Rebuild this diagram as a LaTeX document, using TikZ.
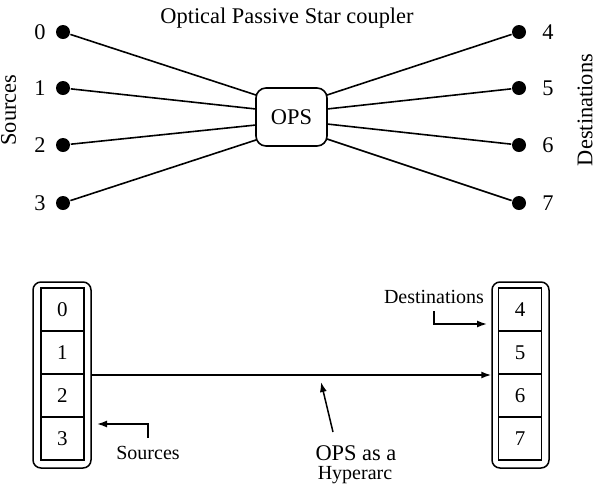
\documentclass[tikz,border=0pt]{standalone}
\usepackage{fontspec}
\setmainfont{Liberation Serif}
\usetikzlibrary{arrows.meta}
\begin{document}
\begin{tikzpicture}[x=0.5pt,y=-0.5pt, line width=0.8pt,
 dot/.style={circle,fill=black,inner sep=0pt,minimum size=7pt},
 lbl/.style={font=\fontsize{11.2}{13}\selectfont, inner sep=0pt},
 small/.style={font=\fontsize{10}{12}\selectfont, inner sep=0pt},
 cell/.style={draw,line width=0.75pt,minimum width=21.5pt,minimum height=21.5pt,inner sep=0pt,font=\fontsize{10.5}{12}\selectfont},
 frame/.style={draw,line width=0.75pt,rounded corners=4pt,minimum height=93pt,inner sep=0pt},
 opsbox/.style={draw,rounded corners=5pt,minimum width=35.5pt,minimum height=29pt,inner sep=0pt,font=\fontsize{11.2}{13}\selectfont},
 arr/.style={line width=0.75pt,-{Latex[length=5pt,width=3.5pt]}}]
\useasboundingbox (0,0) rectangle (600,489);

% ---------- top part ----------
\node[lbl] (title) at (287,18) {Optical Passive Star coupler};
\node[lbl,rotate=90] (srcs) at (8.5,110) {Sources};
\node[lbl,rotate=90] (dsts) at (585,110) {Destinations};

\node[opsbox] (ops) at (291.5,117) {OPS};

\foreach \i/\y in {0/32,1/88,2/145,3/203}{
  \node[dot] (s\i) at (63,\y) {};
  \node[lbl] (ls\i) at (40,\y) {\i};
}
\foreach \i/\y in {4/32,5/88,6/145,7/203}{
  \node[dot] (d\i) at (519,\y) {};
  \node[lbl] (ld\i) at (548,\y) {\i};
}

\coordinate (o0) at (256,95);
\coordinate (o1) at (256,109);
\coordinate (o2) at (256,125);
\coordinate (o3) at (256,140);
\coordinate (o4) at (327,95);
\coordinate (o5) at (327,109);
\coordinate (o6) at (327,124);
\coordinate (o7) at (327,139);

\foreach \i in {0,1,2,3}{ \draw (s\i) -- (o\i); }
\foreach \i in {4,5,6,7}{ \draw (o\i) -- (d\i); }

% ---------- bottom part ----------
\node[frame,minimum width=29pt] (lf) at (62,375) {};
\node[frame,minimum width=28.5pt] (rf) at (520.5,375) {};

\foreach \i/\y in {0/309.5,1/352.5,2/395.5,3/438.5}{
  \node[cell] (c\i) at (62.5,\y) {\i};
}
\foreach \i/\y in {4/309.5,5/352.5,6/395.5,7/438.5}{
  \node[cell] (c\i) at (520,\y) {\i};
}

\draw[arr] (lf.east) -- (rf.west);

\node[small] (srclbl) at (148,453) {Sources};
\coordinate (sa) at (148,438);
\coordinate (sb) at (97,424);
\draw[arr] (sa) |- (sb);

\node[small] (dstlbl) at (434,297) {Destinations};
\coordinate (da) at (434,311);
\coordinate (db) at (487,324);
\draw[arr] (da) |- (db);

\node[lbl] (opsa) at (356,453) {OPS as a};
\node[small] (hyp) at (355,475) {Hyperarc};
\coordinate (ha) at (333,432);
\coordinate (hb) at (321,382);
\draw[arr] (ha) -- (hb);
\end{tikzpicture}
\end{document}
